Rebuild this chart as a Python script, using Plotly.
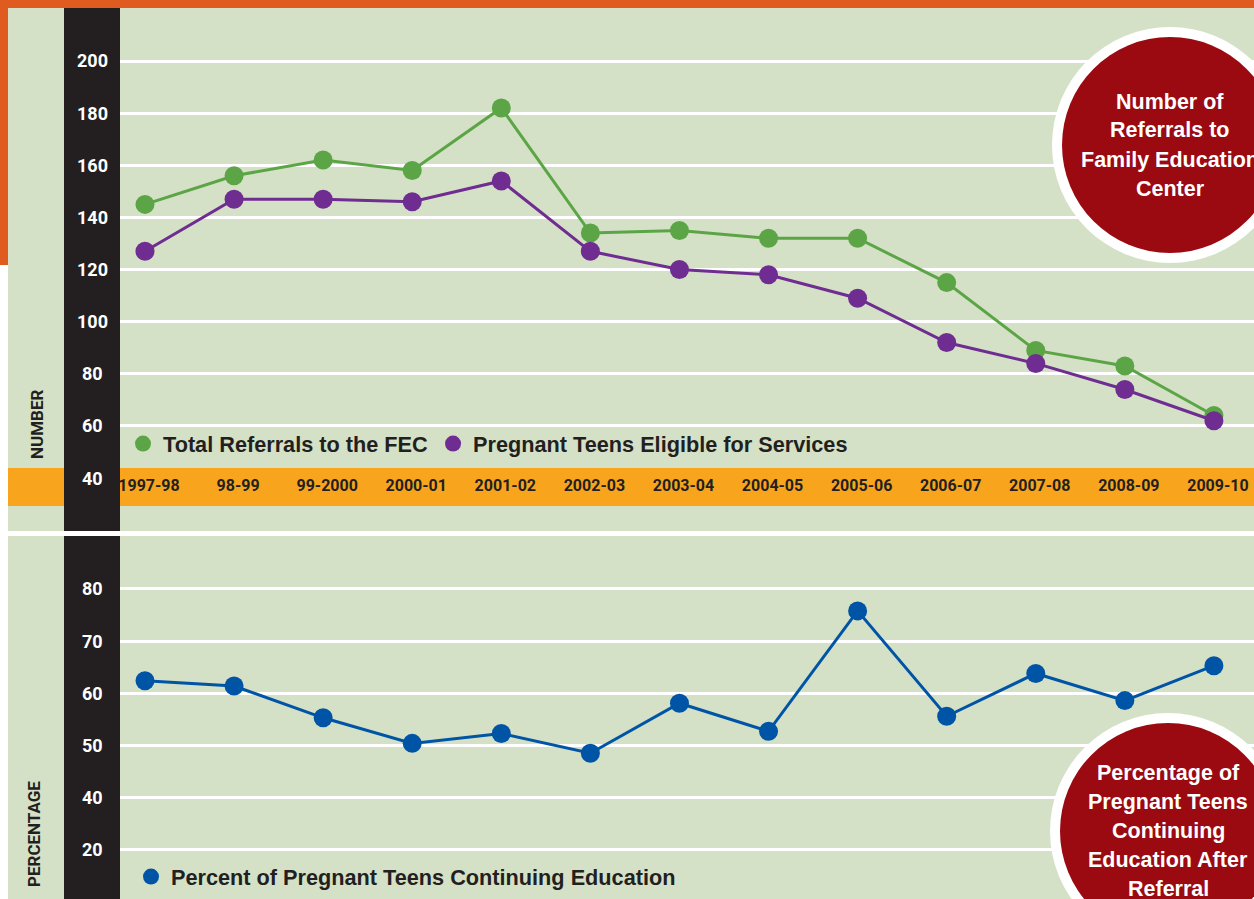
import plotly.graph_objects as go

# ---------------- data ----------------
years = ["1997-98", "98-99", "99-2000", "2000-01", "2001-02", "2002-03", "2003-04",
         "2004-05", "2005-06", "2006-07", "2007-08", "2008-09", "2009-10"]
total_referrals = [145, 156, 162, 158, 182, 134, 135, 132, 132, 115, 89, 83, 64]
eligible_teens = [127, 147, 147, 146, 154, 127, 120, 118, 109, 92, 84, 74, 62]
pct_continuing = [62.4, 61.4, 55.3, 50.4, 52.3, 48.5, 58.1, 52.7, 75.8, 55.6, 63.8, 58.6, 65.3]

top_tick_vals = [40, 60, 80, 100, 120, 140, 160, 180, 200]
top_grid_vals = [60, 80, 100, 120, 140, 160, 180, 200]
bottom_tick_vals = [30, 40, 50, 60, 70, 80]
bottom_tick_text = ["20", "40", "50", "60", "70", "80"]

name_total = "Total Referrals to the FEC"
name_eligible = "Pregnant Teens Eligible for Services"
name_pct = "Percent of Pregnant Teens Continuing Education"
top_title = ["Number of", "Referrals to", "Family Education", "Center"]
bottom_title = ["Percentage of", "Pregnant Teens", "Continuing", "Education After", "Referral"]

# ---------------- style ----------------
W, H = 1254, 899
def px(x): return x / W
def py(y): return 1 - y / H

ORANGE_TOP = "#E05B20"
GREEN_BG = "#D4E1C6"
ORANGE_BAND = "#F8A51D"
BLACK = "#231F20"
RED = "#9B0A11"
GREEN = "#5CA546"
PURPLE = "#6F2C91"
BLUE = "#0054A6"
COND = "Roboto, Liberation Sans, sans-serif"
SANS = "Liberation Sans, Arial, Helvetica, sans-serif"

fig = go.Figure()

fig.add_trace(go.Scatter(x=years, y=total_referrals, mode="lines+markers", xaxis="x", yaxis="y",
                         line=dict(color=GREEN, width=3), marker=dict(color=GREEN, size=19),
                         showlegend=False, name=name_total))
fig.add_trace(go.Scatter(x=years, y=eligible_teens, mode="lines+markers", xaxis="x", yaxis="y",
                         line=dict(color=PURPLE, width=3), marker=dict(color=PURPLE, size=19),
                         showlegend=False, name=name_eligible))
fig.add_trace(go.Scatter(x=years, y=pct_continuing, mode="lines+markers", xaxis="x2", yaxis="y2",
                         line=dict(color=BLUE, width=3), marker=dict(color=BLUE, size=19),
                         showlegend=False, name=name_pct))

# legend-only entries (markers only)
for nm, col, lg in [(name_total, GREEN, "legend"), (name_eligible, PURPLE, "legend"),
                    (name_pct, BLUE, "legend2")]:
    fig.add_trace(go.Scatter(x=[None], y=[None], mode="markers", xaxis="x", yaxis="y",
                             marker=dict(color=col, size=18), name=nm, legend=lg, showlegend=True))

# ---------------- background shapes ----------------
def rect(x0, y0, x1, y1, color, layer="below"):
    return dict(type="rect", xref="paper", yref="paper", x0=px(x0), x1=px(x1), y0=py(y1), y1=py(y0),
                fillcolor=color, line=dict(width=0), layer=layer)

def circ(cx, cy, r, color):
    return dict(type="circle", xref="paper", yref="paper", x0=px(cx - r), x1=px(cx + r),
                y0=py(cy + r), y1=py(cy - r), fillcolor=color, line=dict(width=0), layer="above")

shapes = [
    rect(0, 0, 8, 265, ORANGE_TOP),
    rect(0, 0, W, 8, ORANGE_TOP),
    rect(8, 8, W, 531, GREEN_BG),
    rect(8, 536, W, H, GREEN_BG),
    rect(8, 468, W, 506, ORANGE_BAND),
    rect(64, 8, 120, 531, BLACK),
    rect(64, 536, 120, H, BLACK),
    circ(1170, 145, 118, "white"),
    circ(1170, 145, 108, RED),
    circ(1168, 831, 118, "white"),
    circ(1168, 831, 108, RED),
]

# ---------------- annotations ----------------
ann = []
for v in top_tick_vals:
    ann.append(dict(x=px(92), xref="paper", y=v, yref="y", text=str(v), showarrow=False,
                    xanchor="center", yanchor="middle",
                    font=dict(family=COND, size=18, color="white", weight="bold")))
for v, t in zip(bottom_tick_vals, bottom_tick_text):
    ann.append(dict(x=px(92), xref="paper", y=v, yref="y2", text=t, showarrow=False,
                    xanchor="center", yanchor="middle",
                    font=dict(family=COND, size=18, color="white", weight="bold")))
ann.append(dict(x=px(37), y=py(425), xref="paper", yref="paper", text="NUMBER", textangle=-90,
                showarrow=False, xanchor="center", yanchor="middle",
                font=dict(family=COND, size=17, color=BLACK, weight="bold")))
ann.append(dict(x=px(34), y=py(834), xref="paper", yref="paper", text="PERCENTAGE", textangle=-90,
                showarrow=False, xanchor="center", yanchor="middle",
                font=dict(family=COND, size=17, color=BLACK, weight="bold")))
for i, line in enumerate(top_title):
    ann.append(dict(x=px(1170), y=py(145 + (i - 1.5) * 29), xref="paper", yref="paper", text=line,
                    showarrow=False, xanchor="center", yanchor="middle",
                    font=dict(family=SANS, size=21.5, color="white", weight="bold")))
for i, line in enumerate(bottom_title):
    ann.append(dict(x=px(1168), y=py(831 + (i - 2) * 29), xref="paper", yref="paper", text=line,
                    showarrow=False, xanchor="center", yanchor="middle",
                    font=dict(family=SANS, size=21.5, color="white", weight="bold")))

xr = [-0.2806, 12.45]
fig.update_layout(
    width=W, height=H, autosize=False,
    margin=dict(l=0, r=0, t=0, b=0, pad=0),
    paper_bgcolor="white", plot_bgcolor="rgba(0,0,0,0)",
    shapes=shapes, annotations=ann,
    xaxis=dict(domain=[px(120), 1], range=xr, type="category", anchor="free", position=py(474),
               showgrid=False, zeroline=False, showline=False, ticks="",
               ticklabeloverflow="allow", ticklabelshift=4,
               tickfont=dict(family=COND, size=16, color=BLACK, weight="bold"), automargin=False),
    xaxis2=dict(domain=[px(120), 1], range=xr, type="category", anchor="y2", showgrid=False,
                zeroline=False, showline=False, showticklabels=False, ticks="", automargin=False),
    yaxis=dict(domain=[py(531), py(8)], range=[19.72, 220.33], anchor="x", tickvals=top_grid_vals,
               showticklabels=False, gridcolor="white", gridwidth=2.5, zeroline=False,
               showline=False, ticks="", automargin=False),
    yaxis2=dict(domain=[0, py(536)], range=[20.56, 90.16], anchor="x2", tickvals=bottom_tick_vals,
                showticklabels=False, gridcolor="white", gridwidth=2.5, zeroline=False,
                showline=False, ticks="", automargin=False),
    legend=dict(orientation="h", x=px(123), y=py(444), xanchor="left", yanchor="middle",
                bgcolor="rgba(0,0,0,0)", borderwidth=0, itemsizing="trace",
                font=dict(family=SANS, size=21.7, color=BLACK, weight="bold")),
    legend2=dict(orientation="h", x=px(131), y=py(877), xanchor="left", yanchor="middle",
                 bgcolor="rgba(0,0,0,0)", borderwidth=0, itemsizing="trace",
                 font=dict(family=SANS, size=21.7, color=BLACK, weight="bold")),
    showlegend=True,
)

fig.write_html("out.html", config={"displayModeBar": False},
               post_script="document.body.style.margin='0';")
